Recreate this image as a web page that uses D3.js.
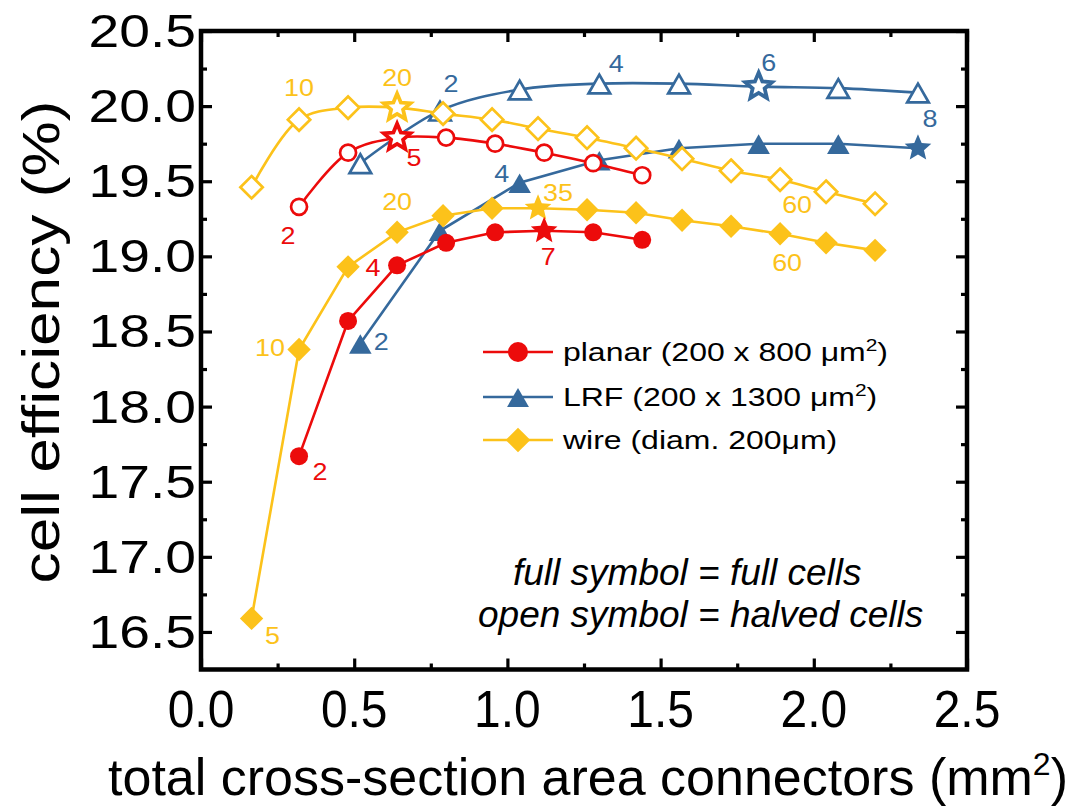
<!DOCTYPE html>
<html>
<head>
<meta charset="utf-8">
<script src="https://cdn.jsdelivr.net/npm/d3@7"></script>
<style>
  body { margin: 0; background: #fff; }
  svg text { font-family: "Liberation Sans", Arial, sans-serif; fill: #000; }
</style>
</head>
<body>
<div id="chart"></div>
<script>
// cell efficiency vs connector cross-section

// planar ribbons (200 x 800 um2)
var planarX    = [0.32, 0.48, 0.64, 0.80, 0.96, 1.12, 1.28, 1.44];
var planarFull = [17.67, 18.57, 18.94, 19.09, 19.16, 19.17, 19.16, 19.11];
var planarHalf = [19.33, 19.69, 19.79, 19.79, 19.75, 19.69, 19.62, 19.54];

// LRF ribbons (200 x 1300 um2)
var lrfX    = [0.52, 0.78, 1.04, 1.30, 1.56, 1.82, 2.08, 2.34];
var lrfFull = [18.42, 19.17, 19.49, 19.64, 19.72, 19.75, 19.75, 19.72];
var lrfHalf = [19.62, 19.97, 20.11, 20.15, 20.15, 20.13, 20.12, 20.09];

// wires (diam. 200um)
var wireX    = [0.165, 0.32, 0.48, 0.64, 0.79, 0.95, 1.10, 1.26, 1.42, 1.57, 1.73, 1.89, 2.04, 2.20];
var wireFull = [16.59, 18.38, 18.93, 19.16, 19.27, 19.32, 19.32, 19.31, 19.29, 19.24, 19.20, 19.15, 19.09, 19.04];
var wireHalf = [19.46, 19.91, 19.99, 19.99, 19.95, 19.91, 19.85, 19.79, 19.72, 19.65, 19.57, 19.51, 19.43, 19.35];

var xTicks = [0.0, 0.5, 1.0, 1.5, 2.0, 2.5];
var yTicks = [16.5, 17.0, 17.5, 18.0, 18.5, 19.0, 19.5, 20.0, 20.5];

// number of connectors written next to some points
var labelSeries = ["wireHalf", "wireHalf", "wireHalf", "lrfHalf", "lrfHalf", "lrfHalf", "lrfFull", "lrfFull", "lrfFull",
                   "planarHalf", "planarHalf", "planarFull", "planarFull", "planarFull",
                   "wireFull", "wireFull", "wireFull", "wireFull", "wireFull"];
var labelIndex  = [1, 3, 11, 1, 3, 5, 7, 0, 2, 2, 0, 0, 2, 5, 0, 1, 3, 6, 11];
var labelText   = ["10", "20", "60", "2", "4", "6", "8", "2", "4", "5", "2", "2", "4", "7", "5", "10", "20", "35", "60"];

var legendNames = ["planar (200 x 800 \u03bcm", "LRF (200 x 1300 \u03bcm", "wire (diam. 200\u03bcm)"];

var width = 1082, height = 807;
var plotL = 201, plotR = 967, plotT = 31, plotB = 669.5;

var colors = { planar: "#ec0b0b", lrf: "#35699c", wire: "#fcc21a" };

var x = d3.scaleLinear().domain([0, 2.5]).range([plotL, plotR]);
var y = d3.scaleLinear().domain([16.25, 20.5]).range([plotB, plotT]);

var svg = d3.select("#chart").append("svg")
  .attr("width", width)
  .attr("height", height);

// axes, ticks inward on all four sides
function tickAxis(axis, values, size) {
  return axis.tickValues(values).tickSize(-size).tickFormat("");
}
var xMinor = [0.25, 0.75, 1.25, 1.75, 2.25];
var yMinor = [16.75, 17.25, 17.75, 18.25, 18.75, 19.25, 19.75, 20.25];

var axes = svg.append("g").attr("class", "axes");
// major
axes.append("g").attr("transform", "translate(0," + plotB + ")").call(tickAxis(d3.axisBottom(x), xTicks, 11));
axes.append("g").attr("transform", "translate(0," + plotT + ")").call(tickAxis(d3.axisTop(x), xTicks, 11));
axes.append("g").attr("transform", "translate(" + plotL + ",0)").call(tickAxis(d3.axisLeft(y), yTicks, 11));
axes.append("g").attr("transform", "translate(" + plotR + ",0)").call(tickAxis(d3.axisRight(y), yTicks, 11));
// minor
axes.append("g").attr("transform", "translate(0," + plotB + ")").call(tickAxis(d3.axisBottom(x), xMinor, 6));
axes.append("g").attr("transform", "translate(0," + plotT + ")").call(tickAxis(d3.axisTop(x), xMinor, 6));
axes.append("g").attr("transform", "translate(" + plotL + ",0)").call(tickAxis(d3.axisLeft(y), yMinor, 6));
axes.append("g").attr("transform", "translate(" + plotR + ",0)").call(tickAxis(d3.axisRight(y), yMinor, 6));

axes.selectAll(".domain").remove();
axes.selectAll(".tick line").attr("stroke", "#000").attr("stroke-width", 3.2);

svg.append("rect")
  .attr("x", plotL).attr("y", plotT)
  .attr("width", plotR - plotL).attr("height", plotB - plotT)
  .attr("fill", "none").attr("stroke", "#000").attr("stroke-width", 4.5);

// tick labels
svg.append("g").selectAll("text").data(xTicks).enter().append("text")
  .attr("transform", function (d) { return "translate(" + x(d) + ",727) scale(0.94,1)"; })
  .attr("text-anchor", "middle")
  .style("font-size", "51px")
  .text(function (d) { return d.toFixed(1); });

svg.append("g").selectAll("text").data(yTicks).enter().append("text")
  .attr("transform", function (d) { return "translate(196," + (y(d) + 16) + ") scale(1.2,1)"; })
  .attr("text-anchor", "end")
  .style("font-size", "46px")
  .text(function (d) { return d.toFixed(1); });

// axis titles
var xt = svg.append("text")
  .attr("x", (plotL + plotR) / 2 + 4)
  .attr("y", 795)
  .attr("text-anchor", "middle")
  .style("font-size", "52px")
  .text("total cross-section area connectors (mm");
xt.append("tspan").attr("dy", -20).style("font-size", "32px").text("2");
xt.append("tspan").attr("dy", 20).text(")");

svg.append("text")
  .attr("transform", "translate(59,342) rotate(-90) scale(1.22,1)")
  .attr("text-anchor", "middle")
  .style("font-size", "51px")
  .text("cell efficiency (%)");

// markers
function starPath(r) {
  var pts = [];
  for (var i = 0; i < 10; i++) {
    var rr = i % 2 === 0 ? r : r * 0.45;
    var a = -Math.PI / 2 + i * Math.PI / 5;
    pts.push([rr * Math.cos(a), rr * Math.sin(a)]);
  }
  return "M" + pts.join("L") + "Z";
}
function markerPath(kind, s) {
  if (kind === "circle") return d3.symbol(d3.symbolCircle, Math.PI * s * s)();
  if (kind === "triangle") return "M0," + (-s * 0.95) + "L" + (s * 1.15) + "," + (s * 1.05) + "L" + (-s * 1.15) + "," + (s * 1.05) + "Z";
  if (kind === "diamond") return "M0," + (-s * 1.3) + "L" + (s * 1.3) + ",0L0," + (s * 1.3) + "L" + (-s * 1.3) + ",0Z";
  return starPath(s);
}
var markerSize = {
  circle:   { open: 8,   full: 9 },
  triangle: { open: 9.4, full: 9.8 },
  diamond:  { open: 8.6, full: 9 }
};

var series = [
  { key: "lrfHalf",    xs: lrfX,    ys: lrfHalf,    color: colors.lrf,    kind: "triangle", open: true,  star: 5 },
  { key: "lrfFull",    xs: lrfX,    ys: lrfFull,    color: colors.lrf,    kind: "triangle", open: false, star: 7 },
  { key: "wireHalf",   xs: wireX,   ys: wireHalf,   color: colors.wire,   kind: "diamond",  open: true,  star: 3 },
  { key: "wireFull",   xs: wireX,   ys: wireFull,   color: colors.wire,   kind: "diamond",  open: false, star: 6 },
  { key: "planarHalf", xs: planarX, ys: planarHalf, color: colors.planar, kind: "circle",   open: true,  star: 2 },
  { key: "planarFull", xs: planarX, ys: planarFull, color: colors.planar, kind: "circle",   open: false, star: 5 }
];

var plot = svg.append("g");
series.forEach(function (s) {
  var pts = s.xs.map(function (d, i) { return [d, s.ys[i]]; });
  var line = d3.line()
    .x(function (d) { return x(d[0]); })
    .y(function (d) { return y(d[1]); })
    .curve(s.open ? d3.curveCatmullRom : d3.curveLinear);
  var g = plot.append("g").attr("class", s.key);
  g.append("path").datum(pts)
    .attr("d", line)
    .attr("fill", "none")
    .attr("stroke", s.color)
    .attr("stroke-width", 2.6);
  var ms = markerSize[s.kind][s.open ? "open" : "full"];
  g.selectAll(".pt").data(pts).enter().append("path")
    .attr("class", "pt")
    .attr("transform", function (d) { return "translate(" + x(d[0]) + "," + y(d[1]) + ")"; })
    .attr("d", function (d, i) { return i === s.star ? markerPath("star", 14) : markerPath(s.kind, ms); })
    .attr("fill", function (d, i) { return s.open ? "#fff" : s.color; })
    .attr("stroke", s.color)
    .attr("stroke-width", function (d, i) { return s.open ? (i === s.star ? 3.8 : 2.7) : 0; });
});

// point labels (number of connectors)
var labelOffsets = [[0, -32], [0, -30], [17, 25], [11, -27], [17, -20], [10, -24], [12, -29], [21, -1], [-18, -9],
                    [17, 20], [-11, 29], [21, 16], [-24, 3], [4, 26], [21, 18], [-29, -1], [0, -30], [20, -15], [7, 29]];
var byKey = {};
series.forEach(function (s) { byKey[s.key] = s; });
svg.append("g").selectAll("text").data(labelText).enter().append("text")
  .attr("transform", function (d, i) {
    var s = byKey[labelSeries[i]], k = labelIndex[i];
    var px = x(s.xs[k]) + labelOffsets[i][0], py = y(s.ys[k]) + labelOffsets[i][1] + 8;
    return "translate(" + px + "," + py + ") scale(1.17,1)";
  })
  .attr("text-anchor", "middle")
  .style("font-size", "23px")
  .style("fill", function (d, i) { return byKey[labelSeries[i]].color; })
  .text(function (d) { return d; });

// legend
var legendColors = [colors.planar, colors.lrf, colors.wire];
var legendKinds = ["circle", "triangle", "diamond"];
var legend = svg.append("g");
var rowY = [352, 397, 440];
legendNames.forEach(function (name, i) {
  var row = legend.append("g").attr("transform", "translate(0," + rowY[i] + ")");
  row.append("line").attr("x1", 483).attr("x2", 553)
    .attr("stroke", legendColors[i]).attr("stroke-width", 2.6);
  row.append("path").attr("transform", "translate(518,0)")
    .attr("d", markerPath(legendKinds[i], i === 0 ? 10 : 9.5))
    .attr("fill", legendColors[i]);
  var t = row.append("text")
    .attr("transform", "translate(563,9) scale(1.23,1)")
    .style("font-size", "26px")
    .text(name);
  if (i < 2) {
    t.append("tspan").attr("dy", -10).style("font-size", "17px").text("2");
    t.append("tspan").attr("dy", 10).text(")");
  }
});

// note
svg.append("text").attr("x", 513).attr("y", 585)
  .style("font-size", "37px").style("font-style", "italic")
  .text("full symbol = full cells");
svg.append("text").attr("x", 478).attr("y", 627)
  .style("font-size", "37px").style("font-style", "italic")
  .text("open symbol = halved cells");
</script>
</body>
</html>
